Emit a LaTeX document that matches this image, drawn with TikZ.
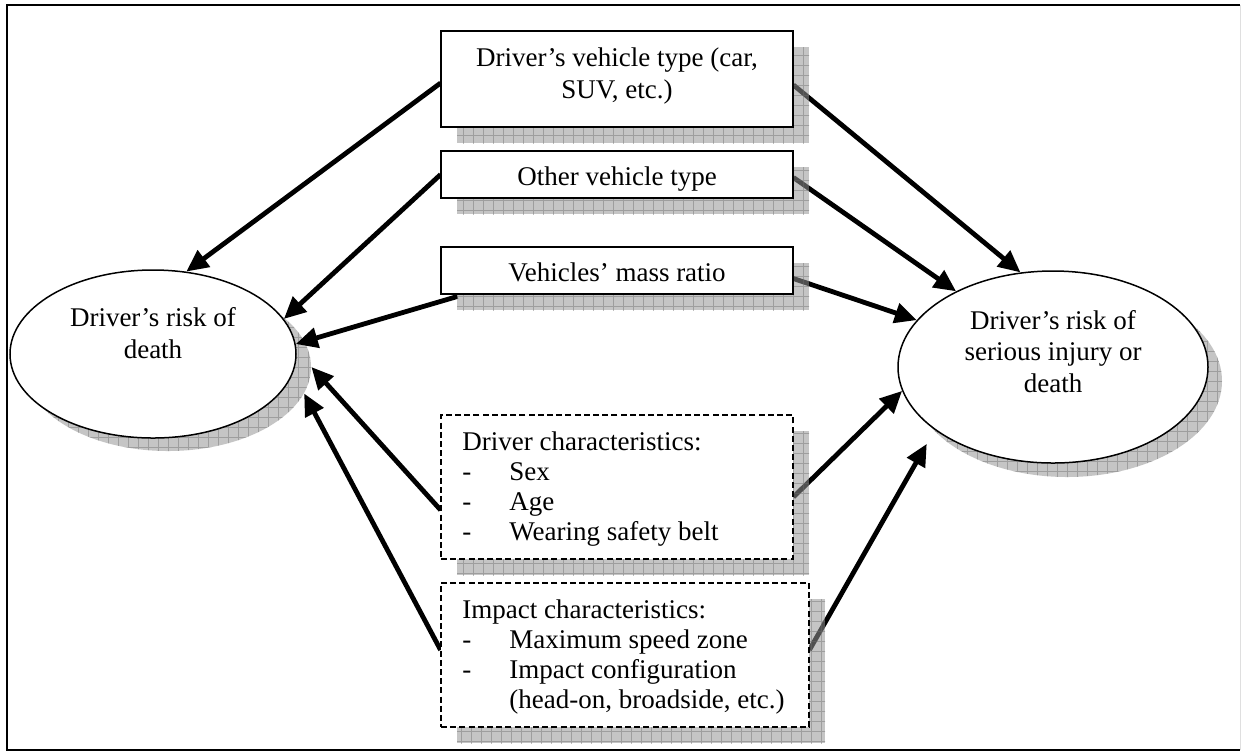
\documentclass[tikz,border=0pt]{standalone}
\usepackage{fontspec}
\setmainfont{Liberation Serif}
\usetikzlibrary{shapes.geometric,arrows.meta,calc}
\tikzset{
  txt/.style={font=\fontsize{13.5pt}{15.7pt}\selectfont, inner sep=0pt},
  listtxt/.style={font=\fontsize{13.5pt}{15pt}\selectfont, inner sep=0pt, align=left, anchor=base west},
  solidbox/.style={draw, line width=1pt, fill=white, rectangle, inner sep=0pt},
  dashbox/.style={draw, line width=0.75pt, dash pattern=on 3pt off 1.6pt, fill=white, rectangle, inner sep=0pt},
  oval/.style={draw, line width=0.75pt, fill=white, ellipse, inner sep=0pt},
  shade/.style={draw=none, fill=black!42, fill opacity=0.54, inner sep=0pt,
    path picture={\draw[black!57, draw opacity=0.45, line width=0.5pt, step=5pt]
      ([xshift=-10pt,yshift=-10pt]path picture bounding box.south west) grid
      ([xshift=10pt,yshift=10pt]path picture bounding box.north east);}},
  arr/.style={line width=2.4pt, -{Triangle[length=11pt,width=10pt]}},
}
\begin{document}
\begin{tikzpicture}[x=0.5pt, y=-0.5pt]
\useasboundingbox (0,0) rectangle (1241,752);
% frame
\draw[line width=1.4pt] (1240,5) -- (7,5) -- (7,750) -- (1240,750);
\draw[gray!25, line width=0.5pt] (1240,5) -- (1240,750);

% ellipse shadows and ellipses
\node[shade, ellipse, minimum width=143pt, minimum height=84pt] (e1s) at (168,367) {};
\node[shade, ellipse, minimum width=155pt, minimum height=96pt] (e2s) at (1067,381) {};
\node[oval, minimum width=143pt, minimum height=84pt] (e1) at (153,354) {};
\node[oval, minimum width=155pt, minimum height=96pt] (e2) at (1053,367) {};
\node[txt, align=center, anchor=base] (e1t) at (153,358) {Driver’s risk of\\death};
\node[txt, align=center, anchor=base] (e2t) at (1053,392) {Driver’s risk of\\serious injury or\\death};

% box geometry (placeholders used by the connectors)
\path (617,79) node[minimum width=176pt, minimum height=48pt, inner sep=0pt] (b1) {};
\path (617,174.5) node[minimum width=176pt, minimum height=23.5pt, inner sep=0pt] (b2) {};
\path (617,270.5) node[minimum width=176pt, minimum height=23.5pt, inner sep=0pt] (b3) {};
\path (617,487) node[minimum width=176pt, minimum height=72pt, inner sep=0pt] (d1) {};
\path (625,655) node[minimum width=184pt, minimum height=72pt, inner sep=0pt] (d2) {};

% connectors
\draw[arr] ($(b1.west)+(0,4)$) -- (e1.68);
\draw[arr] (b2.west) -- (e1.15.5);
\draw[arr] ($(b3.south west)+(17,2)$) -- (e1.4);
\draw[arr] ($(d1.west)+(0,23)$) -- (e1s.0);
\draw[arr] ($(d2.west)+(0,-5)$) -- (e1s.-11);
\draw[arr] ($(b1.east)+(0,6)$) -- (e2.109);
\draw[arr] ($(b2.east)+(0,3)$) -- (e2.142);
\draw[arr] ($(b3.east)+(0,8)$) -- (e2.161);
\draw[arr] ($(d1.east)+(0,10)$) -- (e2.189);
\draw[arr, shorten >=8pt] ($(d2.east)+(0,-5)$) -- (e2.208);

% box shadows
\node[shade, minimum width=176pt, minimum height=48pt] (b1s) at (633,95) {};
\node[shade, minimum width=176pt, minimum height=23.5pt] (b2s) at (633,190.5) {};
\node[shade, minimum width=176pt, minimum height=23.5pt] (b3s) at (633,286.5) {};
\node[shade, minimum width=176pt, minimum height=72pt] (d1s) at (633,503) {};
\node[shade, minimum width=184pt, minimum height=72pt] (d2s) at (641,671) {};

% boxes
\node[solidbox, minimum width=176pt, minimum height=48pt] (b1f) at (b1) {};
\node[solidbox, minimum width=176pt, minimum height=23.5pt] (b2f) at (b2) {};
\node[solidbox, minimum width=176pt, minimum height=23.5pt] (b3f) at (b3) {};
\node[dashbox, minimum width=176pt, minimum height=72pt] (d1f) at (d1) {};
\node[dashbox, minimum width=184pt, minimum height=72pt] (d2f) at (d2) {};

% texts
\node[txt, align=center, anchor=base] (b1t) at (617,98) {Driver’s vehicle type (car,\\SUV, etc.)};
\node[txt, anchor=base] (b2t) at (617,185) {Other vehicle type};
\node[txt, anchor=base] (b3t) at (617,281) {Vehicles’ mass ratio};
\node[listtxt] (d1t) at (462,540) {Driver characteristics:\\
\makebox[23.5pt][l]{-}Sex\\
\makebox[23.5pt][l]{-}Age\\
\makebox[23.5pt][l]{-}Wearing safety belt};
\node[listtxt] (d2t) at (462,708) {Impact characteristics:\\
\makebox[23.5pt][l]{-}Maximum speed zone\\
\makebox[23.5pt][l]{-}Impact configuration\\
\hspace*{23.5pt}(head-on, broadside, etc.)};
\end{tikzpicture}
\end{document}
